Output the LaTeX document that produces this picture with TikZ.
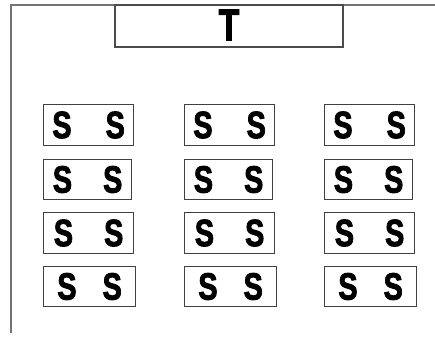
\documentclass[tikz,border=0pt]{standalone}
\usepackage{fontspec}
\newfontfamily\heavyfont{Liberation Sans Bold}[FakeBold=2.5]
\newcommand{\nar}[1]{\scalebox{0.76}[1]{#1}}
\begin{document}
\begin{tikzpicture}[x=0.75pt,y=-0.75pt,
  seat/.style={draw=black!75,line width=0.9pt,inner sep=0pt,minimum height=40.5*0.75pt,
    font=\heavyfont\fontsize{28.5}{28.5}\selectfont},
  tbox/.style={draw=black!70,line width=0.8pt,inner sep=0pt,minimum width=228*0.75pt,minimum height=42*0.75pt,
    font=\heavyfont\fontsize{33.5}{33.5}\selectfont},
  frame/.style={draw=black!55,line width=0.9pt}]
\useasboundingbox (0,0) rectangle (435,337);
\coordinate (fb) at (11,333);
\coordinate (fc) at (11,5);
\coordinate (fr) at (435,5);
\draw[frame] (fb) -- (fc) -- (fr);
\node[tbox] (teacher) at (229,26) {\raisebox{1.5pt}{\nar{T}}};
\foreach \r/\y/\w/\g in {1/125/90/34,2/179.5/88/31,3/233/90/31,4/286.5/92/26}{
  \foreach \c/\x in {1/43,2/184,3/324}{
    \node[seat,minimum width=\w*0.75pt,anchor=west] (b\r\c) at (\x,\y) {\nar{S}\hspace{\dimexpr\g pt*3/4\relax}\nar{S}};
  }
}
\end{tikzpicture}
\end{document}
